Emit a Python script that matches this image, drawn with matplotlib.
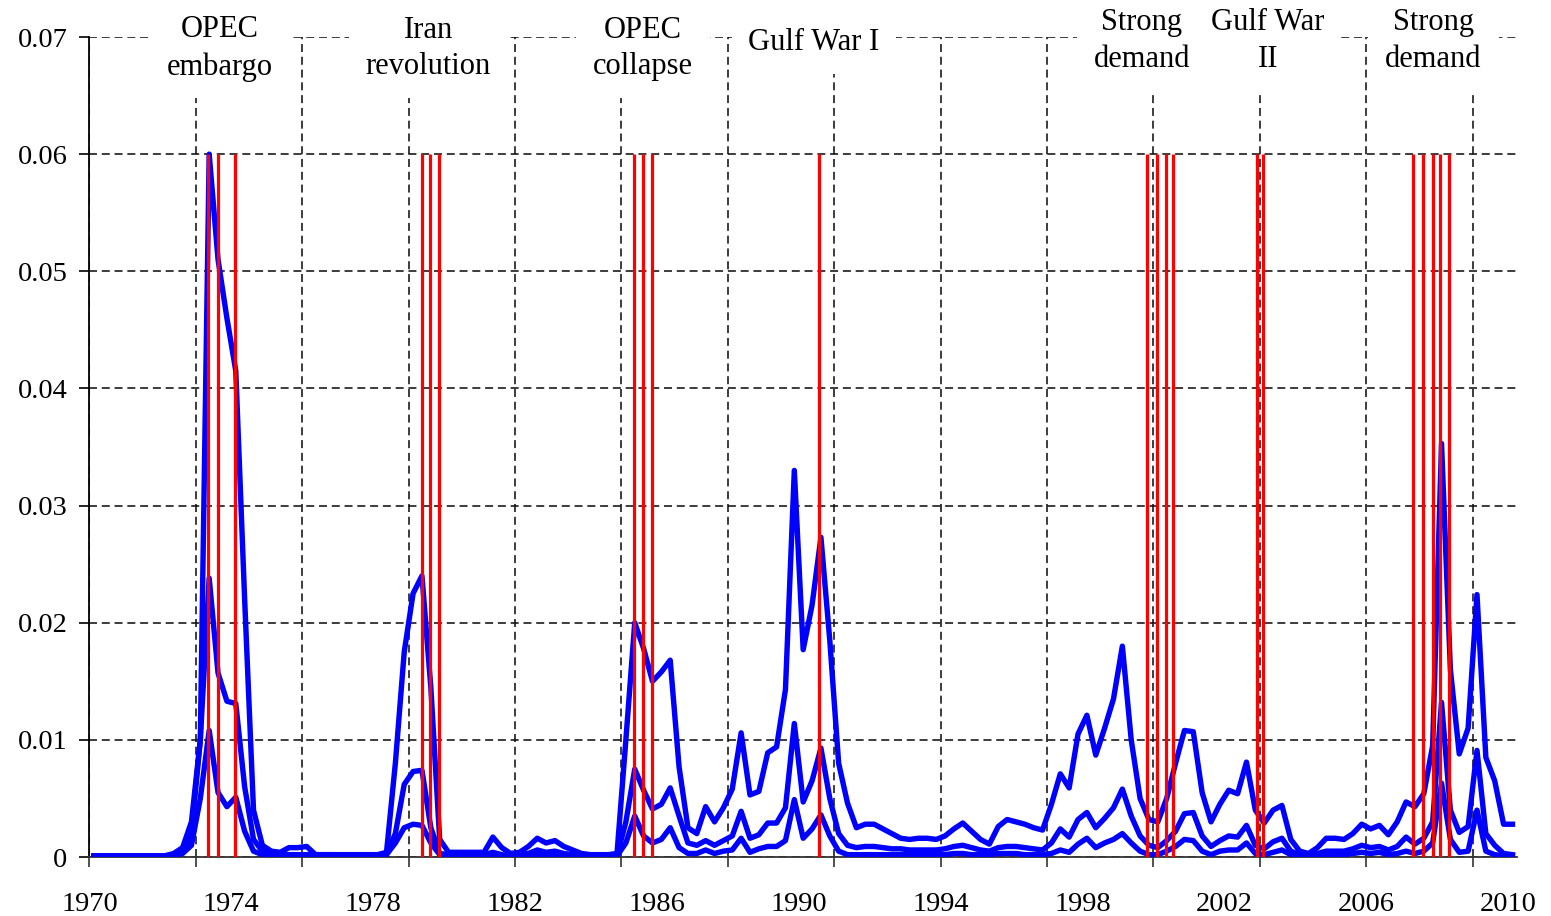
import numpy as np
import matplotlib.pyplot as plt

plt.rcParams['font.family'] = ['Liberation Serif', 'DejaVu Serif']

# quarterly values, 1970Q1 .. 2010Q1 (one row per year)
upper = [
    0.0001, 0.0001, 0.0001, 0.0001,  # 1970
    0.0001, 0.0001, 0.0001, 0.0001,  # 1971
    0.0001, 0.0003, 0.0008, 0.0030,  # 1972
    0.0100, 0.0600, 0.0510, 0.0460,  # 1973
    0.0415, 0.0220, 0.0040, 0.0010,  # 1974
    0.0005, 0.0004, 0.0008, 0.0008,  # 1975
    0.0009, 0.0002, 0.0002, 0.0002,  # 1976
    0.0002, 0.0002, 0.0002, 0.0002,  # 1977
    0.0002, 0.0004, 0.0080, 0.0175,  # 1978
    0.0225, 0.0240, 0.0145, 0.0015,  # 1979
    0.0004, 0.0004, 0.0004, 0.0004,  # 1980
    0.0004, 0.0017, 0.0008, 0.0003,  # 1981
    0.0004, 0.0009, 0.0016, 0.0012,  # 1982
    0.0014, 0.0009, 0.0006, 0.0003,  # 1983
    0.0002, 0.0002, 0.0002, 0.0003,  # 1984
    0.0100, 0.0200, 0.0178, 0.0150,  # 1985
    0.0158, 0.0168, 0.0077, 0.0025,  # 1986
    0.0020, 0.0043, 0.0030, 0.0042,  # 1987
    0.0058, 0.0106, 0.0053, 0.0056,  # 1988
    0.0089, 0.0094, 0.0143, 0.0330,  # 1989
    0.0177, 0.0215, 0.0273, 0.0185,  # 1990
    0.0080, 0.0046, 0.0025, 0.0028,  # 1991
    0.0028, 0.0024, 0.0020, 0.0016,  # 1992
    0.0015, 0.0016, 0.0016, 0.0015,  # 1993
    0.0018, 0.0024, 0.0029, 0.0022,  # 1994
    0.0015, 0.0011, 0.0026, 0.0032,  # 1995
    0.0030, 0.0028, 0.0025, 0.0023,  # 1996
    0.0045, 0.0071, 0.0059, 0.0105,  # 1997
    0.0121, 0.0087, 0.0110, 0.0135,  # 1998
    0.0180, 0.0100, 0.0050, 0.0032,  # 1999
    0.0030, 0.0050, 0.0080, 0.0108,  # 2000
    0.0107, 0.0055, 0.0030, 0.0045,  # 2001
    0.0057, 0.0054, 0.0081, 0.0040,  # 2002
    0.0029, 0.0040, 0.0044, 0.0015,  # 2003
    0.0005, 0.0003, 0.0008, 0.0016,  # 2004
    0.0016, 0.0015, 0.0020, 0.0028,  # 2005
    0.0024, 0.0027, 0.0019, 0.0030,  # 2006
    0.0047, 0.0043, 0.0054, 0.0095,  # 2007
    0.0353, 0.0160, 0.0088, 0.0110,  # 2008
    0.0224, 0.0085, 0.0065, 0.0028,  # 2009
    0.0028,                          # 2010
]

middle = [
    0.0001, 0.0001, 0.0001, 0.0001,  # 1970
    0.0001, 0.0001, 0.0001, 0.0001,  # 1971
    0.0001, 0.0002, 0.0005, 0.0020,  # 1972
    0.0100, 0.0238, 0.0157, 0.0133,  # 1973
    0.0131, 0.0060, 0.0015, 0.0005,  # 1974
    0.0003, 0.0002, 0.0002, 0.0002,  # 1975
    0.0002, 0.0002, 0.0002, 0.0002,  # 1976
    0.0001, 0.0001, 0.0001, 0.0001,  # 1977
    0.0001, 0.0003, 0.0020, 0.0062,  # 1978
    0.0073, 0.0074, 0.0025, 0.0003,  # 1979
    0.0002, 0.0002, 0.0002, 0.0002,  # 1980
    0.0002, 0.0004, 0.0002, 0.0001,  # 1981
    0.0002, 0.0003, 0.0006, 0.0004,  # 1982
    0.0005, 0.0003, 0.0002, 0.0001,  # 1983
    0.0001, 0.0001, 0.0001, 0.0001,  # 1984
    0.0030, 0.0075, 0.0057, 0.0041,  # 1985
    0.0045, 0.0059, 0.0035, 0.0012,  # 1986
    0.0010, 0.0014, 0.0010, 0.0014,  # 1987
    0.0018, 0.0039, 0.0016, 0.0019,  # 1988
    0.0029, 0.0029, 0.0042, 0.0114,  # 1989
    0.0047, 0.0065, 0.0093, 0.0050,  # 1990
    0.0020, 0.0010, 0.0008, 0.0009,  # 1991
    0.0009, 0.0008, 0.0007, 0.0007,  # 1992
    0.0006, 0.0006, 0.0006, 0.0006,  # 1993
    0.0007, 0.0009, 0.0010, 0.0008,  # 1994
    0.0006, 0.0005, 0.0008, 0.0009,  # 1995
    0.0009, 0.0008, 0.0007, 0.0006,  # 1996
    0.0012, 0.0024, 0.0017, 0.0032,  # 1997
    0.0038, 0.0025, 0.0033, 0.0042,  # 1998
    0.0058, 0.0035, 0.0018, 0.0010,  # 1999
    0.0008, 0.0014, 0.0022, 0.0037,  # 2000
    0.0038, 0.0018, 0.0009, 0.0014,  # 2001
    0.0018, 0.0017, 0.0027, 0.0010,  # 2002
    0.0007, 0.0013, 0.0016, 0.0005,  # 2003
    0.0002, 0.0002, 0.0003, 0.0005,  # 2004
    0.0005, 0.0005, 0.0007, 0.0010,  # 2005
    0.0008, 0.0009, 0.0006, 0.0009,  # 2006
    0.0017, 0.0011, 0.0016, 0.0030,  # 2007
    0.0132, 0.0040, 0.0021, 0.0026,  # 2008
    0.0091, 0.0020, 0.0010, 0.0003,  # 2009
    0.0002,                          # 2010
]

lower = [
    0.0000, 0.0000, 0.0000, 0.0000,  # 1970
    0.0000, 0.0000, 0.0000, 0.0000,  # 1971
    0.0000, 0.0001, 0.0003, 0.0010,  # 1972
    0.0050, 0.0108, 0.0055, 0.0043,  # 1973
    0.0051, 0.0022, 0.0005, 0.0002,  # 1974
    0.0001, 0.0001, 0.0001, 0.0001,  # 1975
    0.0001, 0.0001, 0.0001, 0.0001,  # 1976
    0.0001, 0.0001, 0.0001, 0.0001,  # 1977
    0.0001, 0.0002, 0.0012, 0.0025,  # 1978
    0.0028, 0.0027, 0.0012, 0.0002,  # 1979
    0.0001, 0.0001, 0.0001, 0.0001,  # 1980
    0.0001, 0.0002, 0.0001, 0.0001,  # 1981
    0.0001, 0.0001, 0.0002, 0.0001,  # 1982
    0.0002, 0.0001, 0.0001, 0.0001,  # 1983
    0.0001, 0.0001, 0.0001, 0.0001,  # 1984
    0.0012, 0.0035, 0.0018, 0.0012,  # 1985
    0.0015, 0.0025, 0.0008, 0.0003,  # 1986
    0.0003, 0.0006, 0.0003, 0.0005,  # 1987
    0.0006, 0.0016, 0.0004, 0.0007,  # 1988
    0.0009, 0.0009, 0.0014, 0.0049,  # 1989
    0.0016, 0.0024, 0.0036, 0.0018,  # 1990
    0.0005, 0.0002, 0.0002, 0.0002,  # 1991
    0.0002, 0.0002, 0.0002, 0.0002,  # 1992
    0.0002, 0.0002, 0.0002, 0.0002,  # 1993
    0.0002, 0.0003, 0.0003, 0.0002,  # 1994
    0.0002, 0.0002, 0.0003, 0.0003,  # 1995
    0.0003, 0.0002, 0.0002, 0.0002,  # 1996
    0.0003, 0.0006, 0.0004, 0.0011,  # 1997
    0.0016, 0.0008, 0.0012, 0.0015,  # 1998
    0.0020, 0.0012, 0.0005, 0.0002,  # 1999
    0.0002, 0.0005, 0.0009, 0.0015,  # 2000
    0.0014, 0.0005, 0.0002, 0.0005,  # 2001
    0.0006, 0.0006, 0.0012, 0.0003,  # 2002
    0.0002, 0.0004, 0.0006, 0.0002,  # 2003
    0.0001, 0.0001, 0.0001, 0.0001,  # 2004
    0.0001, 0.0002, 0.0003, 0.0004,  # 2005
    0.0003, 0.0004, 0.0002, 0.0003,  # 2006
    0.0005, 0.0003, 0.0005, 0.0012,  # 2007
    0.0063, 0.0015, 0.0004, 0.0005,  # 2008
    0.0040, 0.0005, 0.0002, 0.0001,  # 2009
    0.0001,                          # 2010
]

# dates of the marked episodes (red bars), in years
event_dates = [1973.35, 1973.62, 1974.11,
               1979.37, 1979.60, 1979.86,
               1985.36, 1985.62, 1985.85,
               1990.58,
               1999.81, 2000.10, 2000.36, 2000.56,
               2002.92, 2003.09,
               2007.33, 2007.60, 2007.88, 2008.09, 2008.35]

event_names = ['OPEC\nembargo', 'Iran\nrevolution', 'OPEC\ncollapse', 'Gulf War I',
               'Strong\ndemand', 'Gulf War\nII', 'Strong\ndemand']
name_x = [1973.68, 1979.55, 1985.61, 1990.43, 1999.68, 2003.23, 2007.90]
name_y = [0.986, 0.986, 0.986, 0.993, 0.995, 0.995, 0.995]  # axes fraction

year_labels = [1970, 1974, 1978, 1982, 1986, 1990, 1994, 1998, 2002, 2006, 2010]
grid_years = np.arange(1970, 2010, 3)
y_ticks = [0, 0.01, 0.02, 0.03, 0.04, 0.05, 0.06, 0.07]
y_labels = ['0', '0.01', '0.02', '0.03', '0.04', '0.05', '0.06', '0.07']

# quarter mid-points
t = 1970 + (np.arange(len(upper)) + 0.5) / 4

fig = plt.figure(figsize=(15.51, 9.16), dpi=100)
ax = fig.add_axes([0.0577, 0.0644, 0.9203, 0.8952])

for s in (lower, middle, upper):
    ax.plot(t, s, color='#0000ff', lw=3.9, solid_joinstyle='round', zorder=3)

ax.vlines(event_dates, 0, 0.06, colors='#ff0000', lw=2.3, zorder=4)

ax.set_xlim(1970, 2010.25)
ax.set_ylim(0, 0.07)

# grid / tick marks every 3 years, no labels
ax.set_xticks(grid_years)
ax.set_xticklabels([])
ax.tick_params(axis='x', direction='out', length=7, width=1.2, color='#333333')

# year labels every 4 years on a separate axis
sec = ax.secondary_xaxis('bottom')
sec.set_xticks(year_labels)
sec.set_xticklabels([str(y) for y in year_labels])
sec.tick_params(length=0, pad=25, labelsize=20.5)
sec.spines['bottom'].set_visible(False)

ax.set_yticks(y_ticks)
ax.set_yticklabels(y_labels)
ax.tick_params(axis='y', direction='out', length=7, width=1.2, pad=9, labelsize=20.5)

ax.grid(True, which='major', color='#111111', lw=1.15, linestyle=(0, (5, 3)), zorder=1)
ax.set_axisbelow(True)

for side in ('top', 'right'):
    ax.spines[side].set_visible(False)
ax.spines['left'].set_linewidth(1.3)
ax.spines['left'].set_color('black')
ax.spines['bottom'].set_linewidth(1.3)
ax.spines['bottom'].set_color('#333333')

for name, x, y in zip(event_names, name_x, name_y):
    ax.text(x, y, name, transform=ax.get_xaxis_transform(), ha='center', va='center',
            fontsize=22, linespacing=1.35, zorder=5, clip_on=False,
            bbox=dict(boxstyle='square,pad=0.55', facecolor='white', edgecolor='none'))

fig.savefig('out.png', dpi=100)
